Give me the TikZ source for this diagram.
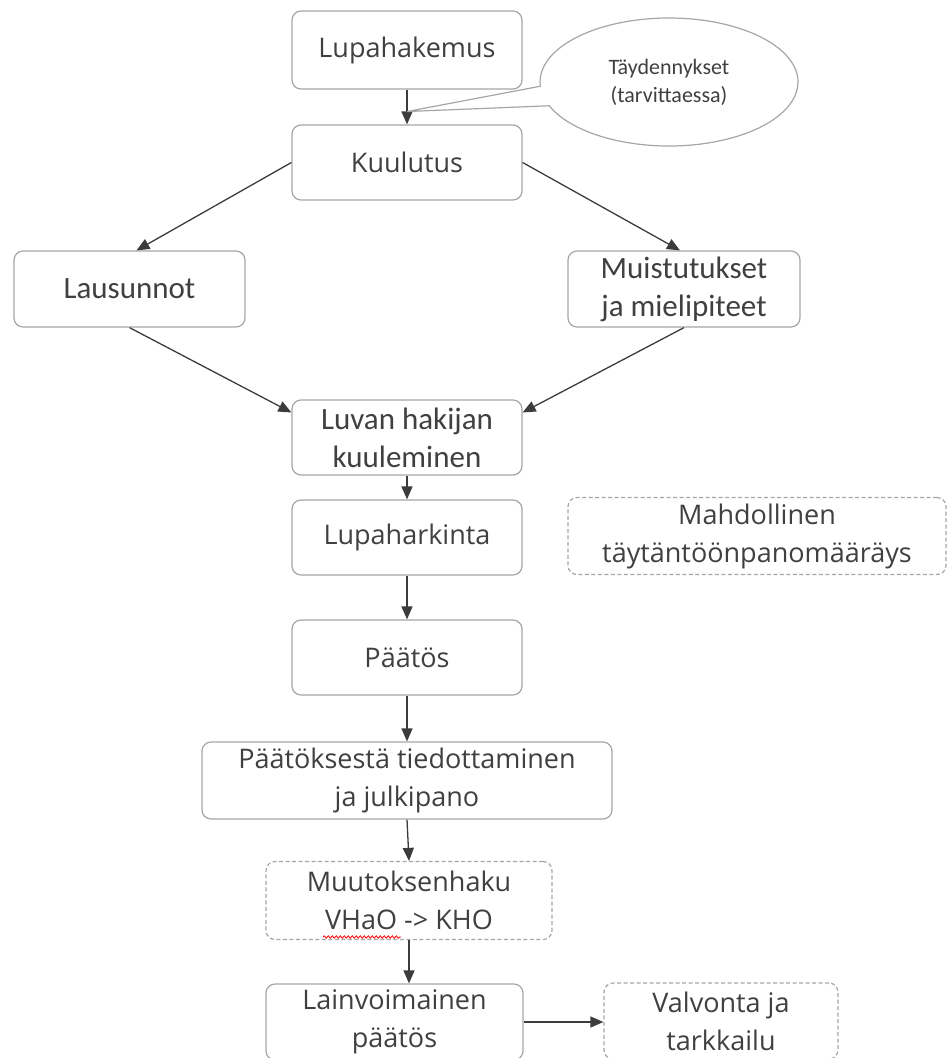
\documentclass[tikz,border=0pt]{standalone}
\usepackage{fontspec}
\newfontfamily\osans{Open Sans}
\newfontfamily\carl{Carlito}
\usetikzlibrary{arrows.meta,shapes.callouts,decorations.pathmorphing,calc}
\definecolor{bordergray}{HTML}{A6A6A6}
\definecolor{textgray}{HTML}{404040}
\definecolor{arrowgray}{HTML}{3C3C3C}
\begin{document}
\begin{tikzpicture}[x=1pt,y=-1pt,
  box/.style={draw=bordergray, line width=1.2pt, rounded corners=9pt, fill=white,
    text=textgray, align=center, inner sep=0pt,
    font=\osans\fontsize{27}{38}\selectfont},
  nbox/.style={box, font=\carl\fontsize{31}{38}\selectfont},
  dbox/.style={box, dash pattern=on 4pt off 2.5pt},
  arr/.style={draw=arrowgray, line width=1.3pt, -{Triangle[length=13pt,width=11pt]}}
]
\useasboundingbox (0,0) rectangle (948,1058);
% boxes
\node[box, minimum width=230, minimum height=78] (lupa) at (407,50) {Lupahakemus};
\node[box, minimum width=230, minimum height=75] (kuul) at (407,162.5) {Kuulutus};
\node[nbox, minimum width=231, minimum height=76] (laus) at (129.5,289) {Lausunnot};
\node[nbox, minimum width=232, minimum height=76] (muis) at (684,289) {Muistutukset\\ja mielipiteet};
\node[nbox, minimum width=230, minimum height=75] (luvan) at (407,437.5) {Luvan hakijan\\kuuleminen};
\node[box, minimum width=230, minimum height=75] (hark) at (407,537.5) {Lupaharkinta};
\node[dbox, minimum width=378, minimum height=77] (mahd) at (757,536) {Mahdollinen\\täytäntöönpanomääräys};
\node[box, minimum width=230, minimum height=75] (paat) at (407,657.5) {Päätös};
\node[box, minimum width=410, minimum height=77] (tied) at (407,780.5) {Päätöksestä tiedottaminen\\ja julkipano};
\node[dbox, minimum width=286, minimum height=78] (muut) at (409,900.5) {Muutoksenhaku\\VHaO -> KHO};
\node[box, minimum width=257, minimum height=76] (lainv) at (394.5,1022) {Lainvoimainen\\päätös};
\node[dbox, minimum width=234, minimum height=76] (valv) at (721,1021) {Valvonta ja\\tarkkailu};
% spellcheck squiggle under VHaO
\coordinate (sq1) at (323,937);
\coordinate (sq2) at (401,937);
\draw[red, line width=0.8pt, decorate, decoration={snake, amplitude=1.2pt, segment length=4pt}] (sq1) -- (sq2);
% connectors
\coordinate (tip) at ($(lupa.south)!0.63!(kuul.north)$);
\draw[arr] (lupa.south) -- (kuul.north);
\draw[arr] (kuul.west) -- ([xshift=7pt]laus.north);
\draw[arr] (kuul.east) -- ([xshift=-4pt]muis.north);
\draw[arr] (laus.south) -- ([yshift=25pt]luvan.west);
\draw[arr] (muis.south) -- ([yshift=25pt]luvan.east);
\draw[arr] (luvan.south) -- (hark.north);
\draw[arr] (hark.south) -- (paat.north);
\draw[arr] (paat.south) -- (tied.north);
\draw[arr] (tied.south) -- (muut.north);
\draw[arr] (muut.south) -- (muut.south |- lainv.north);
\draw[arr] (lainv.east) -- (lainv.east -| valv.west);
% callout
\node[ellipse callout, draw=bordergray, line width=1.2pt, fill=white, text=textgray,
  minimum width=258, minimum height=128, inner sep=0pt, align=center,
  callout absolute pointer={(tip)}, callout pointer arc=18,
  font=\carl\fontsize{22}{28}\selectfont] (tayd) at (669,82) {Täydennykset\\(tarvittaessa)};
\end{tikzpicture}
\end{document}
